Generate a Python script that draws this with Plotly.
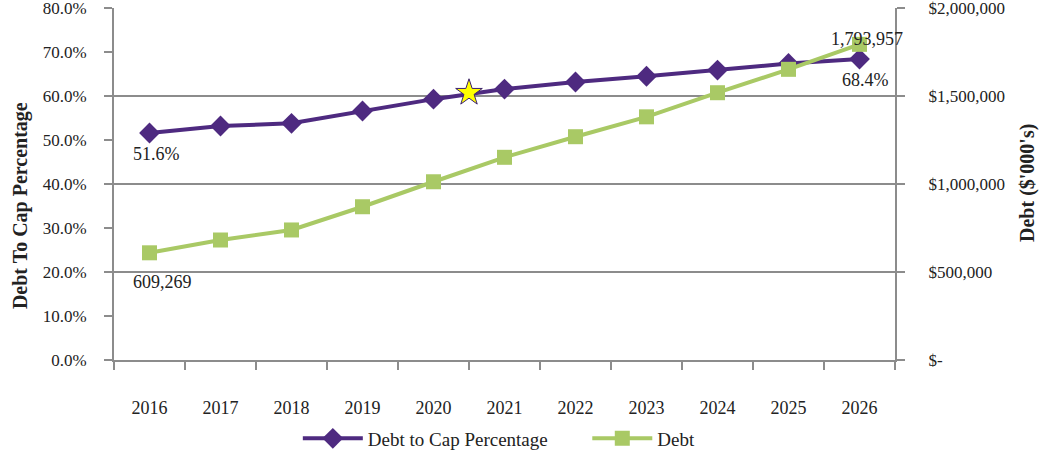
import plotly.graph_objects as go

years = ["2016", "2017", "2018", "2019", "2020", "2021",
         "2022", "2023", "2024", "2025", "2026"]
debt_to_cap_pct = [51.6, 53.2, 53.8, 56.6, 59.3, 61.6, 63.2, 64.5, 65.9, 67.4, 68.4]
debt_thousands = [609269, 682000, 739000, 871000, 1013000, 1152000,
                  1269000, 1382000, 1519000, 1652000, 1793957]
star_position = 4.5
star_pct = 60.75

left_ticks = [0, 10, 20, 30, 40, 50, 60, 70, 80]
right_ticks = [0, 500000, 1000000, 1500000, 2000000]
right_tick_text = ["$-", "$500,000", "$1,000,000", "$1,500,000", "$2,000,000"]

PURPLE = "#4E2A80"
GREEN = "#A9C965"
GRAY = "#8C8C8C"
TEXT = "#222222"
SERIF = "Liberation Serif, Times New Roman, serif"

xs = list(range(len(years)))

fig = go.Figure()

fig.add_trace(go.Scatter(
    x=xs, y=debt_to_cap_pct, name="Debt to Cap Percentage",
    mode="lines+markers",
    line=dict(color=PURPLE, width=4),
    marker=dict(symbol="diamond", size=16, color=PURPLE),
    yaxis="y", legend="legend",
))

fig.add_trace(go.Scatter(
    x=xs, y=debt_thousands, name="Debt",
    mode="lines+markers",
    line=dict(color=GREEN, width=4),
    marker=dict(symbol="square", size=15, color=GREEN),
    yaxis="y2", legend="legend2",
))

fig.add_trace(go.Scatter(
    x=[star_position], y=[star_pct], mode="markers", showlegend=False,
    marker=dict(symbol="star", size=20, color="#FFFF00",
                line=dict(color="#3A2070", width=1)),
    yaxis="y",
))

label_font = dict(family=SERIF, size=18, color=TEXT)
annotations = [
    dict(x=0, y=debt_to_cap_pct[0], yref="y", text=f"{debt_to_cap_pct[0]:.1f}%",
         xshift=7, yshift=-21),
    dict(x=10, y=debt_to_cap_pct[-1], yref="y", text=f"{debt_to_cap_pct[-1]:.1f}%",
         xshift=6, yshift=-21),
    dict(x=0, y=debt_thousands[0], yref="y2", text=f"{debt_thousands[0]:,}",
         xshift=13, yshift=-29),
    dict(x=10, y=debt_thousands[-1], yref="y2", text=f"{debt_thousands[-1]:,}",
         xshift=7, yshift=5),
]
for a in annotations:
    a.update(xref="x", showarrow=False, font=label_font)

# axis titles placed as rotated annotations
title_font = dict(family=SERIF, size=20, color=TEXT)
annotations += [
    dict(text="<b>Debt To Cap Percentage</b>", xref="paper", yref="paper",
         x=-0.1204, y=0.44, textangle=-90, showarrow=False,
         xanchor="center", yanchor="middle", font=title_font),
    dict(text="<b>Debt ($'000's)</b>", xref="paper", yref="paper",
         x=1.1703, y=0.503, textangle=-90, showarrow=False,
         xanchor="center", yanchor="middle", font=title_font),
]

legend_font = dict(family=SERIF, size=19, color=TEXT)
tick_font = dict(family=SERIF, size=17, color=TEXT)

fig.update_layout(
    width=1045, height=452,
    margin=dict(l=114, r=150, t=8, b=92, autoexpand=False),
    plot_bgcolor="white", paper_bgcolor="white",
    font=dict(family=SERIF, size=17, color=TEXT),
    annotations=annotations,
    showlegend=True,
    legend=dict(orientation="h", xref="container", yref="container",
                x=0.285, xanchor="left", y=0.03, yanchor="middle",
                font=legend_font, itemwidth=60, bgcolor="rgba(0,0,0,0)"),
    legend2=dict(orientation="h", xref="container", yref="container",
                 x=0.562, xanchor="left", y=0.03, yanchor="middle",
                 font=legend_font, itemwidth=60, bgcolor="rgba(0,0,0,0)"),
    xaxis=dict(
        range=[-0.5, 10.5], tickmode="array", tickvals=xs, ticktext=years,
        ticks="", showgrid=False, zeroline=False,
        showline=True, linecolor=GRAY, linewidth=2,
        ticklabelstandoff=30, automargin=False, ticklabeloverflow="allow",
        minor=dict(tickmode="array", tickvals=[i - 0.5 for i in range(len(years) + 1)],
                   ticks="outside", ticklen=8, tickwidth=2, tickcolor=GRAY,
                   showgrid=False),
        tickfont=dict(family=SERIF, size=18, color=TEXT),
    ),
    yaxis=dict(
        range=[0, 80.02], tickmode="array", tickvals=left_ticks,
        ticktext=[f"{v:.1f}%" for v in left_ticks],
        ticks="outside", ticklen=8, tickwidth=2, tickcolor=GRAY,
        showline=True, linecolor=GRAY, linewidth=2,
        showgrid=False, zeroline=False, ticklabelstandoff=14, automargin=False,
        ticklabeloverflow="allow",
        tickfont=tick_font,
    ),
    yaxis2=dict(
        range=[0, 2000500], overlaying="y", side="right",
        tickmode="array", tickvals=right_ticks, ticktext=right_tick_text,
        ticks="outside", ticklen=8, tickwidth=2, tickcolor=GRAY,
        showline=True, linecolor=GRAY, linewidth=2,
        showgrid=True, gridcolor=GRAY, gridwidth=2, zeroline=False,
        ticklabelstandoff=20, automargin=False, ticklabeloverflow="allow",
        tickfont=tick_font,
    ),
)

fig.write_html("out.html")
